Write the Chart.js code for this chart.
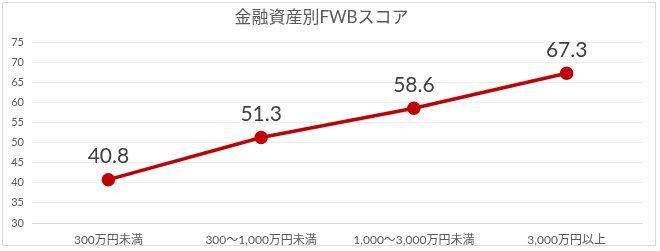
<!DOCTYPE html>
<html>
<head>
<meta charset="utf-8">
<script src="https://cdn.jsdelivr.net/npm/chart.js@4"></script>
<style>
  html, body { margin: 0; padding: 0; background: #fff; }
  #wrap { width: 660px; height: 251px; }
</style>
</head>
<body>
<div id="wrap"><canvas id="chart" width="660" height="251"></canvas></div>
<script>
// chart data
const chartTitle = '金融資産別FWBスコア';
const categories = ['300万円未満', '300～1,000万円未満', '1,000～3,000万円未満', '3,000万円以上'];
const scores = [40.8, 51.3, 58.6, 67.3];
const yMin = 30;
const yMax = 75;
const yStep = 5;

const jpFont = 'Lato, "Noto Sans CJK JP", sans-serif';

// light frame round the whole chart
const framePlugin = {
    id: 'frame',
    beforeDraw(chart) {
        let ctx = chart.ctx;
        ctx.save();
        ctx.fillStyle = '#ffffff';
        ctx.fillRect(0, 0, chart.width, chart.height);
        ctx.strokeStyle = '#d9d9d9';
        ctx.lineWidth = 1;
        ctx.strokeRect(2.5, 2.5, 653, 243);
        ctx.restore();
    }
};

// value labels above each point
const valueLabels = {
    id: 'valueLabels',
    afterDatasetsDraw(chart) {
        let ctx = chart.ctx;
        let meta = chart.getDatasetMeta(0);
        ctx.save();
        ctx.font = '21px ' + jpFont;
        ctx.fillStyle = '#404040';
        ctx.textAlign = 'center';
        ctx.textBaseline = 'middle';
        meta.data.forEach(function(pt, i) {
            ctx.fillText(scores[i].toFixed(1), pt.x, pt.y - 23);
        });
        ctx.restore();
    }
};

new Chart(document.getElementById('chart'), {
    type: 'line',
    data: {
        labels: categories,
        datasets: [{
            data: scores,
            borderColor: '#c00000',
            backgroundColor: '#c00000',
            borderWidth: 3.5,
            pointRadius: 5,
            pointBackgroundColor: '#c00000',
            pointBorderColor: '#c00000',
            tension: 0
        }]
    },
    options: {
        responsive: false,
        animation: false,
        devicePixelRatio: 1,
        layout: { padding: { top: 0, left: 0, right: 17, bottom: 0 } },
        plugins: {
            legend: { display: false },
            tooltip: { enabled: false },
            title: {
                display: true,
                text: chartTitle,
                color: '#595959',
                font: { family: jpFont, size: 17, weight: 'normal' },
                padding: { top: 7, bottom: 15 }
            }
        },
        scales: {
            x: {
                offset: true,
                grid: { display: false, drawTicks: false, offset: true },
                border: { display: false },
                ticks: {
                    color: '#595959',
                    font: { family: jpFont, size: 12 },
                    padding: 10,
                    maxRotation: 0,
                    autoSkip: false
                },
                afterFit(scale) { scale.height = 28; }
            },
            y: {
                min: yMin,
                max: yMax,
                grid: {
                    drawTicks: false,
                    color: function(c) { return c.tick.value === yMin ? '#d9d9d9' : '#ededed'; },
                    lineWidth: 1
                },
                border: { display: false },
                ticks: {
                    stepSize: yStep,
                    color: '#595959',
                    font: { family: jpFont, size: 11 },
                    padding: 8
                },
                afterFit(scale) { scale.width = 32; }
            }
        }
    },
    plugins: [framePlugin, valueLabels]
});
</script>
</body>
</html>
